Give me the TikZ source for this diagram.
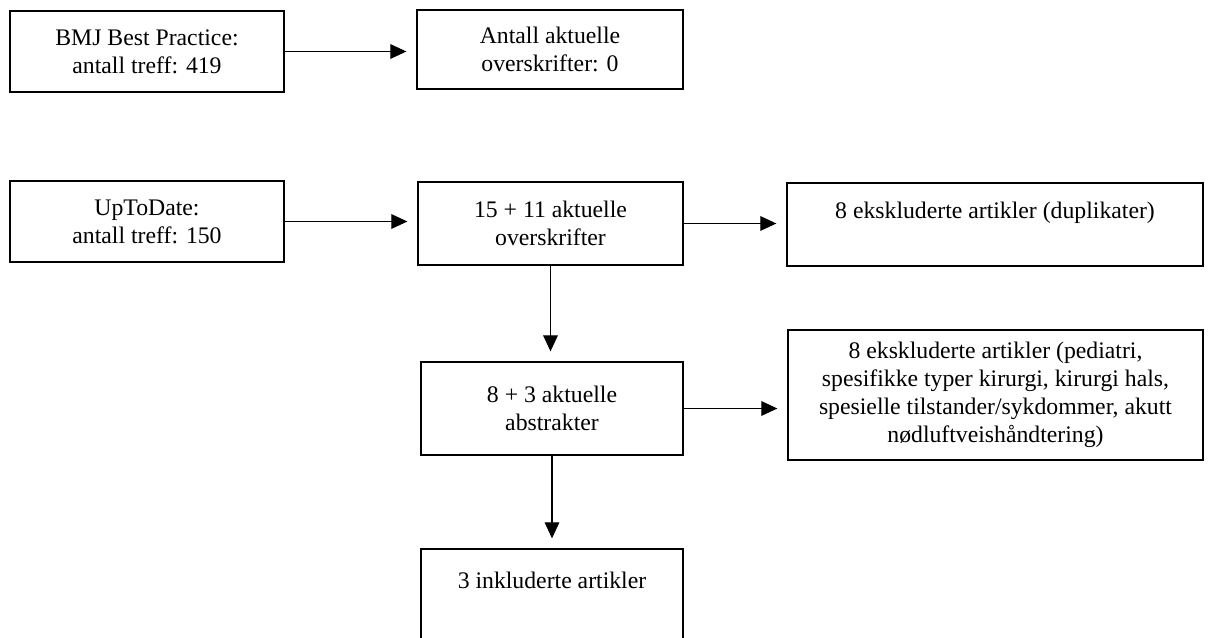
\documentclass[tikz,border=0pt]{standalone}
\usepackage{fontspec}
\setmainfont{Liberation Serif}
\usetikzlibrary{arrows.meta}
\begin{document}
\begin{tikzpicture}[x=0.75pt,y=-0.75pt,
  box/.style={draw=black, line width=2pt, inner sep=0pt, align=center,
    font=\fontsize{17.8}{21}\selectfont},
  arr/.style={line width=0.8pt, -{Triangle[length=12pt,width=11pt]}}]
\useasboundingbox (0,0) rectangle (1209,638);
% boxes
\node[box, minimum width=205.5pt, minimum height=60.75pt] (bmj) at (147,51.5) {BMJ Best Practice:\\antall treff: 419};
\node[box, minimum width=199.5pt, minimum height=59.25pt] (ant) at (550,49.5) {Antall aktuelle\\overskrifter: 0};
\node[box, minimum width=205.5pt, minimum height=60.75pt] (utd) at (147,221.5) {UpToDate:\\antall treff: 150};
\node[box, minimum width=198.75pt, minimum height=62.25pt] (o15) at (550.5,223.5) {15 + 11 aktuelle\\overskrifter};
\node[box, minimum width=312pt, minimum height=62.25pt] (dup) at (995,224.5) {8 ekskluderte artikler (duplikater)\\\mbox{}};
\node[box, minimum width=196.5pt, minimum height=69.75pt] (a83) at (552,408.5) {8 + 3 aktuelle\\abstrakter};
\node[box, minimum width=311.25pt, minimum height=97.5pt] (exc) at (995.5,395) {8 ekskluderte artikler (pediatri,\\spesifikke typer kirurgi, kirurgi hals,\\spesielle tilstander/sykdommer, akutt\\nødluftveishåndtering)};
\node[box, minimum width=196.5pt, minimum height=67.5pt] (inc) at (552,594) {3 inkluderte artikler\\\mbox{}};
% connectors
\draw[arr, shorten >=7pt] (bmj.east) -- (bmj.east -| ant.west);
\draw[arr, shorten >=7pt] (utd.east) -- (utd.east -| o15.west);
\draw[arr, shorten >=7pt] (o15.east) -- (o15.east -| dup.west);
\draw[arr, shorten >=7pt] (a83.east) -- (a83.east -| exc.west);
\draw[arr, shorten >=7pt] (o15.south) -- (o15.south |- a83.north);
\draw[arr, shorten >=7pt] (a83.south) -- (a83.south |- inc.north);
\end{tikzpicture}
\end{document}
